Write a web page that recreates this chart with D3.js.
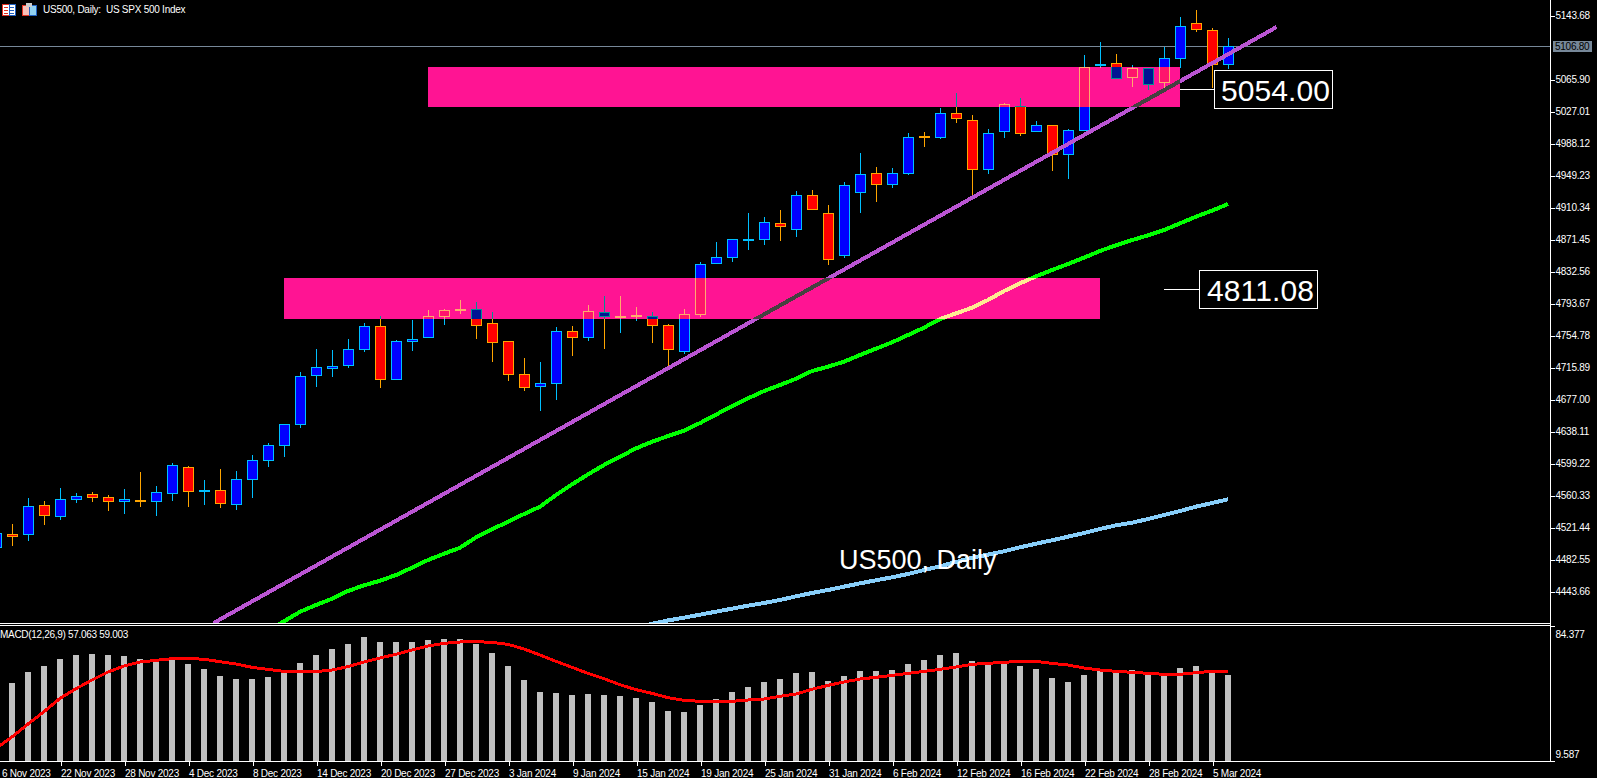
<!DOCTYPE html>
<html>
<head>
<meta charset="utf-8">
<title>US500, Daily</title>
<script src="https://cdnjs.cloudflare.com/ajax/libs/d3/7.8.5/d3.min.js"></script>
<style>
    html, body { margin: 0; padding: 0; background: #000; overflow: hidden; }
    svg { display: block; shape-rendering: crispEdges; }
    text { font-family: "Liberation Sans", Arial, sans-serif; fill: #fff; }
    .tick text { font-size: 10px; letter-spacing: -0.25px; fill: #fff; }
    .tick line, .domain { stroke: #fff; }
</style>
</head>
<body>
<div id="chart"></div>
<script>
// Candles run from bar -1 (cut by the left edge) to bar 76
const firstBar = -1;

const opens = [4496.9, 4513.5, 4512.7, 4548.4, 4534.6, 4554.5, 4561.8, 4558.1, 4552.1, 4554.9, 4552.8, 4562.5, 4594.6, 4565.4, 4566.6, 4549.1, 4579.5, 4602.6, 4620.8, 4646.4, 4705.9, 4714.4, 4718.1, 4737.5, 4765.9, 4701.1, 4747.2, 4752.1, 4777.6, 4784.9, 4786.6, 4769.6, 4747.7, 4707.6, 4692.5, 4696.2, 4759.9, 4752.1, 4783.0, 4776.0, 4777.2, 4778.5, 4767.2, 4735.1, 4780.0, 4842.0, 4849.3, 4869.6, 4871.2, 4891.1, 4883.3, 4925.1, 4903.3, 4851.7, 4928.3, 4951.9, 4938.0, 4951.4, 4997.2, 4995.2, 5024.8, 5016.3, 4956.3, 5001.7, 5033.3, 5001.7, 5010.2, 4974.5, 5003.7, 5082.7, 5085.6, 5067.3, 5079.5, 5062.0, 5091.2, 5134.2, 5125.7, 5083.9];
const closes = [4514.4, 4510.3, 4547.2, 4535.8, 4555.7, 4559.4, 4557.6, 4552.1, 4555.7, 4554.0, 4564.2, 4597.0, 4564.9, 4566.6, 4550.3, 4580.0, 4603.1, 4621.3, 4646.8, 4705.2, 4716.1, 4717.3, 4738.0, 4765.9, 4701.1, 4747.7, 4750.1, 4778.1, 4785.4, 4786.6, 4766.7, 4746.0, 4707.1, 4691.3, 4696.7, 4759.9, 4752.1, 4784.2, 4777.6, 4778.5, 4779.7, 4766.7, 4737.5, 4780.5, 4841.3, 4849.8, 4871.7, 4872.0, 4892.3, 4887.0, 4925.1, 4907.7, 4846.9, 4937.3, 4950.7, 4938.0, 4951.9, 4995.6, 4996.4, 5024.8, 5018.2, 4956.3, 5000.5, 5035.7, 5000.0, 5010.2, 4974.5, 5004.1, 5080.7, 5084.4, 5066.9, 5079.5, 5059.6, 5091.6, 5130.5, 5126.4, 5083.9, 5107.0];
const highs = [4518, 4525.7, 4557.3, 4553.3, 4569.4, 4563.4, 4564.6, 4560.9, 4568.2, 4588.9, 4571.9, 4599.5, 4596.2, 4579.2, 4592.5, 4590.1, 4609.2, 4623.8, 4646.8, 4710.4, 4738.4, 4737.1, 4750.5, 4770.0, 4778.5, 4749.3, 4773.6, 4785.8, 4787.0, 4797.9, 4795.5, 4783.3, 4747.7, 4727.4, 4722.6, 4764.7, 4766.3, 4791.8, 4802.8, 4802.8, 4789.4, 4783.3, 4768.7, 4787.0, 4843.7, 4868.4, 4871.7, 4903.6, 4898.8, 4907.3, 4930.4, 4931.6, 4913.4, 4941.0, 4976.2, 4959.5, 4958.3, 5000.5, 5002.1, 5031.2, 5049.1, 5022.4, 5005.4, 5037.0, 5043.4, 5015.4, 5010.2, 5005.4, 5095.7, 5111.5, 5096.5, 5083.1, 5079.5, 5105.0, 5141.5, 5150.3, 5128.5, 5116.3];
const lows = [4494, 4499.3, 4505.4, 4524.8, 4530.9, 4551.6, 4552.8, 4541.9, 4538.2, 4546.7, 4535.8, 4554.0, 4546.7, 4549.1, 4545.5, 4543.1, 4557.6, 4595.3, 4607.5, 4642.7, 4692.5, 4704.7, 4715.6, 4735.1, 4691.3, 4701.1, 4736.3, 4752.1, 4767.5, 4780.9, 4750.5, 4722.6, 4699.8, 4687.7, 4663.0, 4676.4, 4730.2, 4748.1, 4738.4, 4757.8, 4772.4, 4745.7, 4716.9, 4732.3, 4777.2, 4841.7, 4844.1, 4858.7, 4864.8, 4869.6, 4874.5, 4907.7, 4840.4, 4849.3, 4904.0, 4917.4, 4934.4, 4950.2, 4983.9, 4993.9, 5013.0, 4924.3, 4951.4, 4995.2, 4997.6, 5001.7, 4954.7, 4945.3, 5003.3, 5080.2, 5066.9, 5057.1, 5053.5, 5055.2, 5080.2, 5123.6, 5055.6, 5078.6];

// Moving averages, from the first bar they show up on
const greenStart = 16;
const greenMA = [4396, 4407.5, 4419, 4427.3, 4434.9, 4444.3, 4451.2, 4456.8, 4463.7, 4472.6, 4481.9, 4489.6, 4496.9, 4509.5, 4519.2, 4528.5, 4537.8, 4546.8, 4560.9, 4573.9, 4586.0, 4597.4, 4607.5, 4617.6, 4625.7, 4632.6, 4639.1, 4648.4, 4658.6, 4669.1, 4678.4, 4687.3, 4694.6, 4702.3, 4711.6, 4716.9, 4723.0, 4731.1, 4738.8, 4746.5, 4755.4, 4764.3, 4774.8, 4781.7, 4788.6, 4797.9, 4808.9, 4818.2, 4826.7, 4834.4, 4841.7, 4849.4, 4857.5, 4864.4, 4870.8, 4876.5, 4883.0, 4891.1, 4899.2, 4906.5, 4914.6];
const blueStart = 39;
const blueMA = [4399, 4404.5, 4408.5, 4411.9, 4415.5, 4419.2, 4422.8, 4426.5, 4429.7, 4433.4, 4437.8, 4441.9, 4445.5, 4449.6, 4453.6, 4457.3, 4460.9, 4465.0, 4469.8, 4474.3, 4479.5, 4484.8, 4488.5, 4492.5, 4497.4, 4501.8, 4505.9, 4510.3, 4514.8, 4519.6, 4524.1, 4527.3, 4531.8, 4536.7, 4541.5, 4546.8, 4551.2, 4555.7];

// MACD histogram starts at bar 0, signal at bar -1
const macdHist = [52.80, 58.89, 62.22, 66.09, 68.31, 68.86, 68.31, 67.76, 66.09, 64.99, 65.54, 63.32, 60.55, 56.68, 55.01, 55.01, 56.12, 59.45, 63.88, 68.31, 71.63, 74.40, 78.28, 75.51, 75.51, 75.51, 76.62, 77.17, 77.17, 74.40, 69.42, 62.22, 54.46, 47.81, 47.26, 46.15, 46.70, 46.15, 45.60, 44.49, 42.27, 37.28, 36.73, 40.61, 43.93, 47.81, 50.58, 53.35, 55.01, 58.34, 58.89, 53.91, 56.68, 59.45, 59.45, 60.00, 63.32, 65.54, 68.31, 69.42, 64.99, 62.77, 63.32, 62.22, 60.55, 55.57, 53.35, 57.23, 59.45, 58.89, 60.00, 57.78, 56.86, 61.11, 62.22, 58.89, 57.06];
const macdSignal = [16.60, 22.88, 30.08, 36.92, 44.30, 49.66, 54.46, 58.89, 62.22, 64.43, 65.35, 66.28, 66.46, 65.91, 64.62, 63.32, 61.48, 60.37, 59.26, 59.08, 59.08, 60.00, 61.85, 64.43, 66.65, 68.68, 71.08, 73.30, 74.77, 75.51, 75.70, 75.33, 74.22, 71.63, 68.31, 64.80, 61.48, 58.15, 55.20, 51.87, 49.10, 47.07, 44.67, 43.19, 42.64, 42.64, 42.64, 43.38, 43.93, 45.41, 46.70, 49.29, 51.50, 53.35, 55.01, 55.94, 57.04, 58.15, 59.26, 60.37, 61.66, 63.14, 63.69, 64.25, 64.80, 64.80, 63.69, 62.77, 61.11, 60.00, 59.26, 58.71, 58.15, 57.60, 57.60, 58.52, 59.26, 59.00];

const priceTicks = [5143.68, 5065.90, 5027.01, 4988.12, 4949.23, 4910.34, 4871.45, 4832.56, 4793.67, 4754.78, 4715.89, 4677.00, 4638.11, 4599.22, 4560.33, 4521.44, 4482.55, 4443.66];
const macdTicks = [84.377, 9.587];
const currentPrice = 5106.80;

const dateBars = [-1, 3, 7, 11, 15, 19, 23, 27, 31, 35, 39, 43, 47, 51, 55, 59, 63, 67, 71, 75];
const dateLabels = ["6 Nov 2023", "22 Nov 2023", "28 Nov 2023", "4 Dec 2023", "8 Dec 2023", "14 Dec 2023", "20 Dec 2023", "27 Dec 2023", "3 Jan 2024", "9 Jan 2024", "15 Jan 2024", "19 Jan 2024", "25 Jan 2024", "31 Jan 2024", "6 Feb 2024", "12 Feb 2024", "16 Feb 2024", "22 Feb 2024", "28 Feb 2024", "5 Mar 2024"];

// Supply zones: first bar, last bar, top price, bottom price
const zones = [
    [26, 73, 5081.1, 5032.5],
    [17, 68, 4824.7, 4774.8]
];
// Trend line ends: bar, price
const trendLine = [[12.6, 4405.4], [79.04, 5129.7]];
// Level labels: price, bar the leader starts at, bar the box starts at
const levels = [
    [5054.00, 73, 75.12],
    [4811.08, 72, 74.17]
];

const width = 1597, height = 778;
const axisX = 1550, priceBottom = 623, macdTop = 626, macdBottom = 761;

const xScale = d3.scaleLinear().domain([-1, 76]).range([-4, 1228]);
const yPrice = d3.scaleLinear().domain([5162.52, 4405.4]).range([0, priceBottom]);
const yMacd = d3.scaleLinear().domain([84.377, 9.587]).range([macdTop, macdBottom]);

const svg = d3.select("#chart")
    .append("svg")
    .attr("width", width)
    .attr("height", height);

svg.append("rect").attr("width", width).attr("height", height).attr("fill", "#000");

const defs = svg.append("defs");
defs.append("clipPath").attr("id", "clipPrice")
    .append("rect").attr("width", axisX).attr("height", priceBottom);
defs.append("clipPath").attr("id", "clipMacd")
    .append("rect").attr("y", macdTop).attr("width", axisX).attr("height", macdBottom - macdTop);

// ---------- price pane ----------
const pane = svg.append("g").attr("clip-path", "url(#clipPrice)");
// black again inside the group, the clip isolates the blend below
pane.append("rect").attr("width", axisX).attr("height", priceBottom).attr("fill", "#000");

const currentY = Math.round(yPrice(currentPrice)) + 0.5;
pane.append("line")
    .attr("x1", 0).attr("x2", axisX)
    .attr("y1", currentY).attr("y2", currentY)
    .attr("stroke", "#778899");

const candles = opens.map((o, i) => ({
    bar: firstBar + i,
    open: o,
    close: closes[i],
    high: highs[i],
    low: lows[i],
    up: closes[i] >= o
}));

pane.selectAll(".wick")
    .data(candles)
    .enter()
    .append("line")
    .attr("class", "wick")
    .attr("x1", d => xScale(d.bar) + 0.5)
    .attr("x2", d => xScale(d.bar) + 0.5)
    .attr("y1", d => Math.round(yPrice(d.high)))
    .attr("y2", d => Math.round(yPrice(d.low)))
    .attr("stroke", d => d.up ? "#00BFFF" : "#FFA500");

pane.selectAll(".body")
    .data(candles)
    .enter()
    .append("rect")
    .attr("class", "body")
    .attr("x", d => xScale(d.bar) - 4.5)
    .attr("width", 10)
    .attr("y", d => Math.round(yPrice(Math.max(d.open, d.close))) + 0.5)
    .attr("height", d => Math.max(1, Math.round(yPrice(Math.min(d.open, d.close))) - Math.round(yPrice(Math.max(d.open, d.close))) - 1))
    .attr("fill", d => d.up ? "#0000FF" : "#FF0000")
    .attr("stroke", d => d.up ? "#00BFFF" : "#FFA500");

const priceLine = d3.line()
    .x(d => xScale(d[0]))
    .y(d => yPrice(d[1]));

pane.append("path")
    .datum(greenMA.map((v, i) => [greenStart + i, v]))
    .attr("d", priceLine)
    .attr("fill", "none")
    .attr("stroke", "#00FF00")
    .attr("stroke-width", 4);

pane.append("path")
    .datum(blueMA.map((v, i) => [blueStart + i, v]))
    .attr("d", priceLine)
    .attr("fill", "none")
    .attr("stroke", "#87CEFA")
    .attr("stroke-width", 4);

pane.append("path")
    .datum(trendLine)
    .attr("d", priceLine)
    .attr("fill", "none")
    .attr("stroke", "#BA55D3")
    .attr("stroke-width", 4);

// The platform draws rectangles so they invert whatever is under them
pane.selectAll(".zone")
    .data(zones)
    .enter()
    .append("rect")
    .attr("class", "zone")
    .attr("x", d => xScale(d[0]))
    .attr("width", d => xScale(d[1]) - xScale(d[0]))
    .attr("y", d => Math.round(yPrice(d[2])))
    .attr("height", d => Math.round(yPrice(d[3])) - Math.round(yPrice(d[2])))
    .attr("fill", "#FF1493")
    .style("mix-blend-mode", "difference");

// Level labels with a leader line
levels.forEach(function (d) {
    const y = Math.round(yPrice(d[0])) + 0.5;
    const boxX = Math.round(xScale(d[2]));
    svg.append("line")
        .attr("x1", xScale(d[1])).attr("x2", boxX)
        .attr("y1", y).attr("y2", y)
        .attr("stroke", "#fff");
    svg.append("rect")
        .attr("x", boxX + 0.5).attr("y", y - 19)
        .attr("width", 118).attr("height", 38)
        .attr("fill", "#000")
        .attr("stroke", "#fff");
    svg.append("text")
        .attr("x", boxX + 61.5).attr("y", y + 11)
        .attr("text-anchor", "middle")
        .style("font-size", "30px")
        .style("letter-spacing", "0.1px")
        .text(d3.format(".2f")(d[0]));
});

svg.append("text")
    .attr("x", 839).attr("y", 569)
    .style("font-size", "27px")
    .text("US500, Daily");

// ---------- MACD pane ----------
const macdPane = svg.append("g").attr("clip-path", "url(#clipMacd)");

macdPane.selectAll(".hist")
    .data(macdHist)
    .enter()
    .append("rect")
    .attr("class", "hist")
    .attr("x", (d, i) => xScale(i) - 3)
    .attr("width", 6)
    .attr("y", d => Math.round(yMacd(d)))
    .attr("height", d => macdBottom - Math.round(yMacd(d)))
    .attr("fill", "#C0C0C0");

macdPane.append("path")
    .datum(macdSignal)
    .attr("d", d3.line().x((d, i) => xScale(firstBar + i)).y(d => yMacd(d)))
    .attr("fill", "none")
    .attr("stroke", "#FF0000")
    .attr("stroke-width", 3);

svg.append("text")
    .attr("x", 0).attr("y", 638)
    .style("font-size", "10px")
    .style("letter-spacing", "-0.3px")
    .text("MACD(12,26,9) 57.063 59.003");

// ---------- axes and frame ----------
const yAxis = d3.axisRight(yPrice)
    .tickValues(priceTicks)
    .tickFormat(d3.format(".2f"))
    .tickSize(4)
    .tickPadding(1);

svg.append("g")
    .attr("transform", `translate(${axisX + 0.5}, 0)`)
    .call(yAxis)
    .call(g => g.select(".domain").remove());

const macdAxis = d3.axisRight(yMacd)
    .tickValues(macdTicks)
    .tickFormat(d3.format(".3~f"))
    .tickSize(4)
    .tickPadding(1);

svg.append("g")
    .attr("transform", `translate(${axisX + 0.5}, 0)`)
    .call(macdAxis)
    .call(g => g.select(".domain").remove())
    .call(g => g.selectAll("text").attr("dy", d => d === macdTicks[0] ? "1.1em" : "-0.35em"));

const xAxis = d3.axisBottom(xScale)
    .tickValues(dateBars)
    .tickFormat((d, i) => dateLabels[i])
    .tickSize(4)
    .tickPadding(4);

svg.append("g")
    .attr("transform", `translate(0.5, ${macdBottom + 0.5})`)
    .call(xAxis)
    .call(g => g.select(".domain").remove())
    // the first label's bar sits off the left edge, keep its text on the page
    .call(g => g.selectAll("text").attr("text-anchor", "start").attr("x", d => d === dateBars[0] ? 5 : 0));

const frame = svg.append("g").attr("stroke", "#fff");
frame.append("line").attr("x1", axisX + 0.5).attr("x2", axisX + 0.5).attr("y1", 0).attr("y2", macdBottom + 1);
frame.append("line").attr("x1", 0).attr("x2", axisX).attr("y1", priceBottom + 0.5).attr("y2", priceBottom + 0.5);
frame.append("line").attr("x1", 0).attr("x2", axisX + 1).attr("y1", macdTop - 0.5).attr("y2", macdTop - 0.5);
frame.append("line").attr("x1", 0).attr("x2", axisX + 1).attr("y1", macdBottom + 0.5).attr("y2", macdBottom + 0.5);

// current price tag on the axis
svg.append("rect")
    .attr("x", axisX + 3).attr("y", currentY - 5.5)
    .attr("width", 39).attr("height", 11)
    .attr("fill", "#778899");
svg.append("text")
    .attr("x", axisX + 5).attr("y", currentY + 3.5)
    .style("font-size", "10px")
    .style("letter-spacing", "-0.25px")
    .style("fill", "#000")
    .text(d3.format(".2f")(currentPrice));

// ---------- header ----------
const icons = svg.append("g");
icons.append("rect").attr("x", 2).attr("y", 4).attr("width", 7).attr("height", 11).attr("fill", "#fff").attr("stroke", "#E03020");
icons.append("rect").attr("x", 9).attr("y", 4).attr("width", 6).attr("height", 11).attr("fill", "#fff").attr("stroke", "#2060C0");
[7, 10, 13].forEach(function (y) {
    icons.append("line").attr("x1", 4).attr("x2", 8).attr("y1", y).attr("y2", y).attr("stroke", "#E03020");
    icons.append("line").attr("x1", 10).attr("x2", 14).attr("y1", y).attr("y2", y).attr("stroke", "#2060C0");
});
icons.append("rect").attr("x", 22.5).attr("y", 5.5).attr("width", 7).attr("height", 9.5).attr("fill", "#F8C0B8").attr("stroke", "#E03020");
icons.append("rect").attr("x", 29.5).attr("y", 5.5).attr("width", 7).attr("height", 9.5).attr("fill", "#90D0F0").attr("stroke", "#2060C0");
icons.append("rect").attr("x", 26).attr("y", 3).attr("width", 6).attr("height", 4).attr("fill", "#ccc");

svg.append("text")
    .attr("x", 43).attr("y", 13)
    .style("font-size", "10px")
    .style("letter-spacing", "-0.25px")
    .style("white-space", "pre")
    .text("US500, Daily:  US SPX 500 Index");
</script>
</body>
</html>
